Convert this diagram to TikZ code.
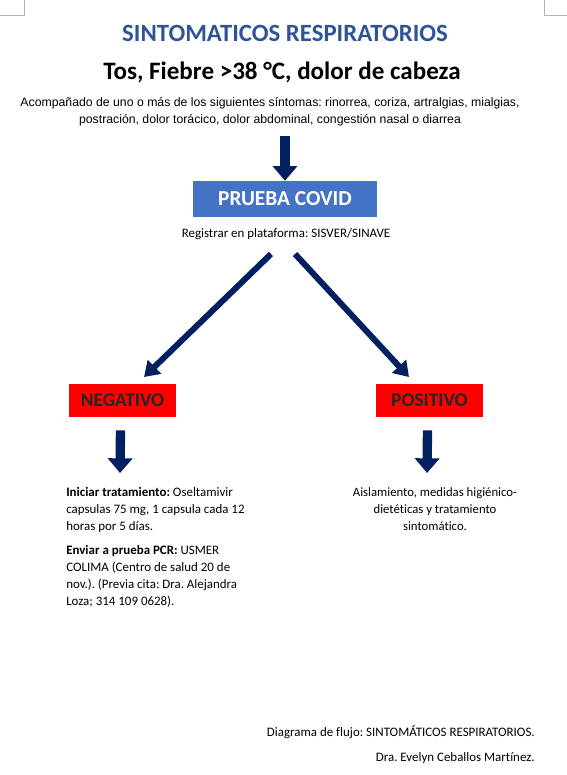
\documentclass[tikz,border=0pt]{standalone}
\usepackage{fontspec}
\setmainfont{Carlito}[Ligatures=NoCommon]
\newfontfamily\arialfont{Liberation Sans}
\usetikzlibrary{arrows.meta, positioning}
\definecolor{navy}{HTML}{002060}
\definecolor{boxblue}{HTML}{4472C4}
\definecolor{titleblue}{HTML}{2F5496}
\frenchspacing
\begin{document}
\begin{tikzpicture}[x=0.75pt, y=-0.75pt,
  box/.style={inner sep=0pt, minimum height=25pt, font=\bfseries\fontsize{14.5}{16}\selectfont},
  redbox/.style={box, fill=red, minimum width=80pt, text=black!85},
  txt/.style={inner sep=0pt, font=\fontsize{9.7}{12.75}\selectfont},
  downarrow/.style={draw=navy, line width=7pt, -{Triangle[length=11pt, width=18pt]}},
  slantarrow/.style={draw=navy, line width=4.5pt, -{Triangle[length=11pt, width=14pt]}},
  corner/.style={draw=black!30, line width=0.6pt}]
\useasboundingbox (0,0) rectangle (567,775);
% marcas de la pagina
\draw[corner] (24,0) -- (24,15) -- (0,15);
\draw[corner] (544,0) -- (544,15) -- (567,15);
% encabezado
\node[inner sep=0pt, text=titleblue, font=\bfseries\fontsize{18.6}{20}\selectfont] (T) at (285,33) {SINTOMATICOS RESPIRATORIOS};
\node[inner sep=0pt, font=\bfseries\fontsize{18.8}{21}\selectfont] (S) at (282,72) {Tos, Fiebre >38 °C, dolor de cabeza};
\node[inner sep=0pt, align=center, font=\arialfont\fontsize{9.2}{12.75}\selectfont] (A) at (270,112)
  {Acompañado de uno o más de los siguientes síntomas: rinorrea, coriza, artralgias, mialgias,\\
   postración, dolor torácico, dolor abdominal, congestión nasal o diarrea};
% prueba
\node[box, fill=boxblue, text=white, minimum width=138pt, minimum height=27pt, font=\bfseries\fontsize{16}{18}\selectfont] (P) at (285,199) {PRUEBA COVID};
\node[txt] (R) at (286,234) {Registrar en plataforma: SISVER/SINAVE};
\coordinate (a0) at (285,136);
\draw[downarrow] (a0) -- (P.north);
% resultados
\node[redbox] (N) at (122.5,400.5) {NEGATIVO};
\node[redbox] (Q) at (429.5,400.5) {POSITIVO};
\coordinate (l0) at (271,254);
\coordinate (r0) at (295,254);
\draw[slantarrow] (l0) -- (144,377);
\draw[slantarrow] (r0) -- (409,377);
% indicaciones
\node[txt, anchor=north west, align=left] (I) at (66,487)
  {\textbf{Iniciar tratamiento:} Oseltamivir\\
   capsulas 75 mg, 1 capsula cada 12\\
   horas por 5 días.};
\node[txt, anchor=north west, align=left] (E) at (66,545)
  {\textbf{Enviar a prueba PCR:} USMER\\
   COLIMA (Centro de salud 20 de\\
   nov.). (Previa cita: Dra. Alejandra\\
   Loza; 314 109 0628).};
\node[txt, anchor=north, align=center, font=\fontsize{9.55}{12.75}\selectfont] (M) at (435,487)
  {Aislamiento, medidas higiénico-\\
   dietéticas y tratamiento\\
   sintomático.};
\draw[downarrow] (N.south) ++(-2,13) -- (120,473);
\draw[downarrow] (Q.south) ++(-2,13) -- (427,473);
% pie
\node[txt, anchor=east] (D1) at (535,732) {Diagrama de flujo: SINTOMÁTICOS RESPIRATORIOS.};
\node[txt, anchor=east] (D2) at (535,758) {Dra. Evelyn Ceballos Martínez.};
\end{tikzpicture}
\end{document}
